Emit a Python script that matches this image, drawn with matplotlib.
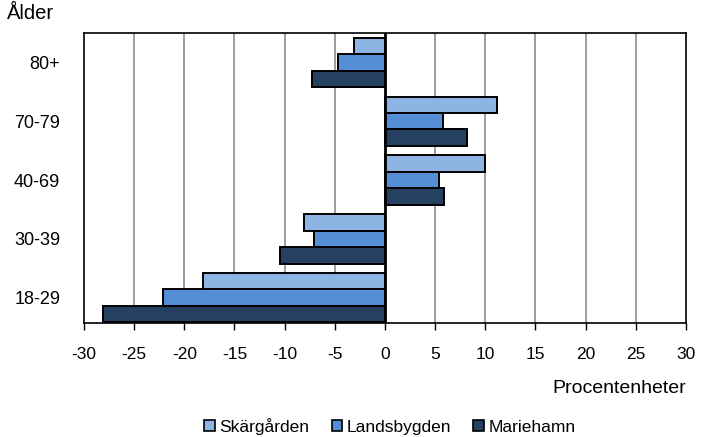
import numpy as np
import matplotlib.pyplot as plt
from matplotlib.patches import Patch

plt.rcParams['font.family'] = ['Liberation Sans', 'DejaVu Sans']

# Data (procentenheter)
age_groups = ['18-29', '30-39', '40-69', '70-79', '80+']
skargarden = [-18.1, -8.1, 10.0, 11.2, -3.1]
landsbygden = [-22.1, -7.1, 5.4, 5.8, -4.7]
mariehamn = [-28.1, -10.5, 5.85, 8.2, -7.3]

series = ['Skärgården', 'Landsbygden', 'Mariehamn']
colors = ['#8DB4E2', '#558ED5', '#254061']

fig = plt.figure(figsize=(7.01, 4.37), dpi=100)
ax = fig.add_axes([0.1198, 0.2609, 0.8588, 0.6636])

y = np.arange(len(age_groups))
h = 0.28
for vals, col, off in zip([skargarden, landsbygden, mariehamn], colors, [h, 0, -h]):
    ax.barh(y + off, vals, height=h, color=col, edgecolor='black', linewidth=1.4, zorder=3)

ax.set_xlim(-30, 30)
ax.set_ylim(-0.43, 4.5)
ax.set_xticks(np.arange(-30, 31, 5))
ax.set_xticklabels([str(v) for v in range(-30, 31, 5)], fontsize=12.5)
ax.set_yticks(y)
ax.set_yticklabels(age_groups, fontsize=13)
ax.tick_params(axis='y', length=0, pad=17)
ax.tick_params(axis='x', length=5, width=1, pad=12, direction='out')

for v in range(-25, 30, 5):
    if v != 0:
        ax.axvline(v, color='#8c8c8c', linewidth=1.2, zorder=1)
ax.axvline(0, color='black', linewidth=2, zorder=4)

for s in ax.spines.values():
    s.set_linewidth(1.2)

fig.text(0.010, 0.970, 'Ålder', fontsize=14.5, ha='left', va='center')
fig.text(0.979, 0.112, 'Procentenheter', fontsize=14, ha='right', va='center')

handles = [Patch(facecolor=c, edgecolor='black', linewidth=1.2) for c in colors]
fig.legend(handles, series, loc='center', bbox_to_anchor=(0.556, 0.025), ncol=3,
           frameon=False, fontsize=12.5, handlelength=0.6, handleheight=0.6,
           handletextpad=0.25, columnspacing=1.3)

fig.savefig('out.png', dpi=100)
